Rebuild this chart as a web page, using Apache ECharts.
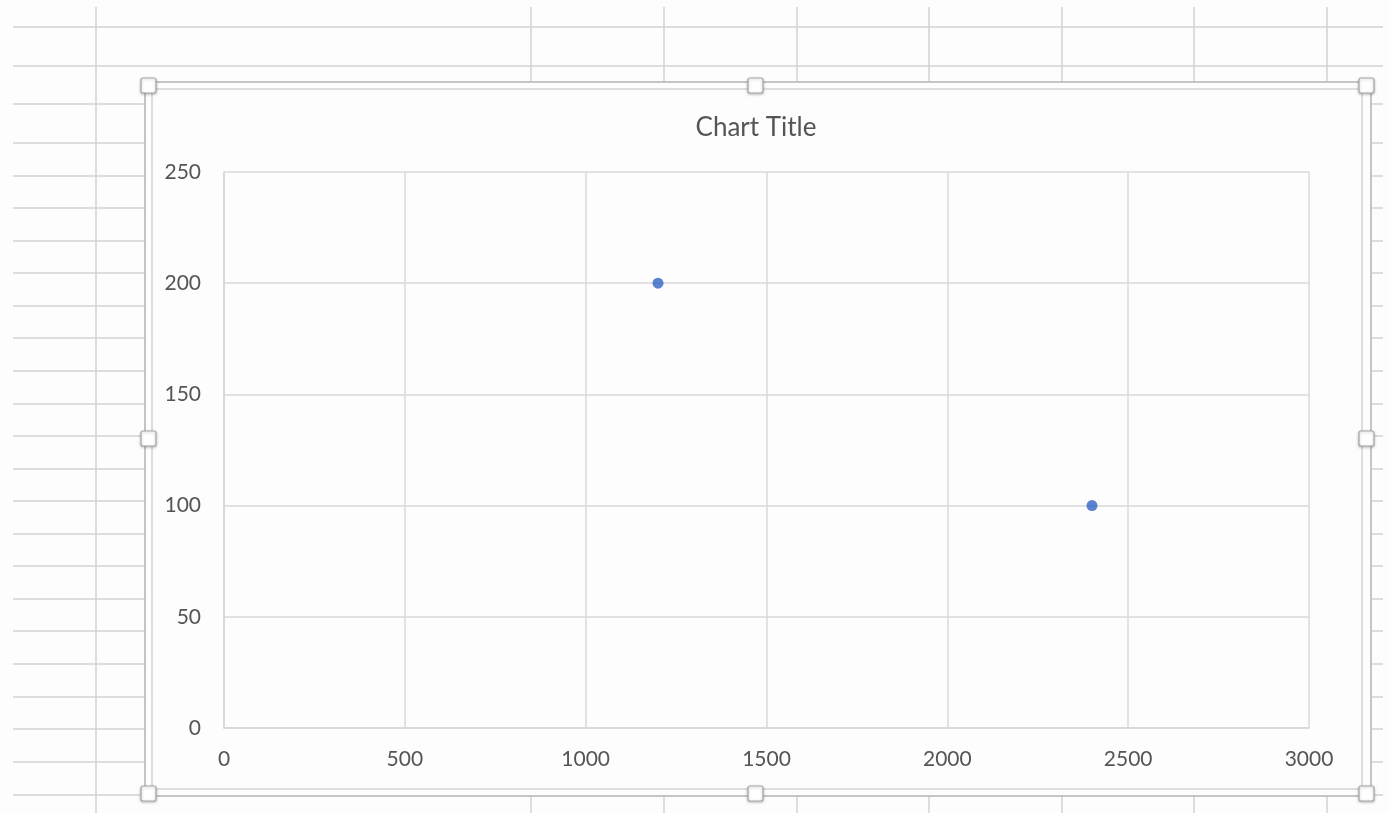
<!DOCTYPE html>
<html>
<head>
<meta charset="utf-8">
<script src="https://cdn.jsdelivr.net/npm/echarts@6/dist/echarts.min.js"></script>
<style>
html,body{margin:0;padding:0;background:#fdfdfd;}
#c{width:1389px;height:813px;}
</style>
</head>
<body>
<div id="c"></div>
<script>
// Data
const titleText = "Chart Title";
const seriesPoints = [[1200, 200], [2400, 100]];
const xTicks = [0, 500, 1000, 1500, 2000, 2500, 3000];
const yTicks = [0, 50, 100, 150, 200, 250];

// Decoration: spreadsheet grid behind the chart object
const sheetRows = [27, 66, 104, 143, 176, 208, 241, 273, 306, 338, 371, 404, 436, 469, 501, 534, 566, 599, 631, 664, 697, 729, 762, 795];
const sheetCols = [96, 531, 664, 797, 929, 1062, 1194, 1327];

const els = [];
sheetRows.forEach(y => els.push({type:'line', z:-20, silent:true, shape:{x1:13,y1:y,x2:1383,y2:y}, style:{stroke:'#d2d2d2', lineWidth:1.5}}));
sheetCols.forEach(x => els.push({type:'line', z:-20, silent:true, shape:{x1:x,y1:7,x2:x,y2:813}, style:{stroke:'#d2d2d2', lineWidth:1.5}}));
// chart object frame
els.push({type:'rect', z:-10, silent:true, shape:{x:145,y:82,width:1226,height:714}, style:{fill:'#fdfdfd', stroke:'#b2b2b2', lineWidth:1.5}});
els.push({type:'rect', z:-9, silent:true, shape:{x:152,y:89,width:1210,height:700}, style:{fill:'#fdfdfd', stroke:'#d4d4d4', lineWidth:1.5}});
// selection handles
const handles = [[148,85],[755,85],[1366,85],[148,438],[1366,438],[148,793],[755,793],[1366,793]];
handles.forEach(h => els.push({type:'rect', z:-8, silent:true, shape:{x:h[0]-7,y:h[1]-7,width:15,height:15,r:2}, style:{fill:'#ffffff', stroke:'#a8a8a8', lineWidth:1.2, shadowBlur:3, shadowColor:'rgba(0,0,0,0.25)', shadowOffsetY:1}}));

const plain = v => String(v);

const chart = echarts.init(document.getElementById('c'), null, {renderer:'canvas'});
chart.setOption({
  backgroundColor: 'transparent',
  animation: false,
  graphic: { elements: els },
  title: {
    text: titleText,
    left: 751,
    textAlign: 'center',
    top: 110,
    textStyle: { fontFamily: 'Lato', fontSize: 26, fontWeight: 'normal', color: '#555555' }
  },
  grid: { left: 224, right: 80, top: 172, bottom: 85, containLabel: false },
  xAxis: {
    type: 'value',
    min: xTicks[0], max: xTicks[xTicks.length-1], interval: xTicks[1]-xTicks[0],
    axisLine: { show: true, lineStyle: { color: '#d6d6d6', width: 1.5 } },
    axisTick: { show: false },
    splitLine: { show: true, lineStyle: { color: '#d9d9d9', width: 1.5 } },
    axisLabel: { margin: 21, fontFamily: 'Lato', fontSize: 21, color: '#555555', formatter: plain }
  },
  yAxis: {
    type: 'value',
    min: yTicks[0], max: yTicks[yTicks.length-1], interval: yTicks[1]-yTicks[0],
    axisLine: { show: true, lineStyle: { color: '#d6d6d6', width: 1.5 } },
    axisTick: { show: false },
    splitLine: { show: true, lineStyle: { color: '#d9d9d9', width: 1.5 } },
    axisLabel: { margin: 23, fontFamily: 'Lato', fontSize: 21, color: '#555555', formatter: plain }
  },
  series: [{
    type: 'scatter',
    data: seriesPoints,
    symbol: 'circle',
    symbolSize: 11,
    itemStyle: { color: '#2f63c4' }
  }]
});
</script>
</body>
</html>
